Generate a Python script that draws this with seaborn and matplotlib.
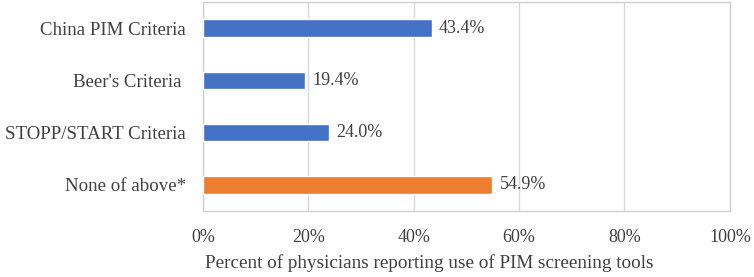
import pandas as pd
import matplotlib.pyplot as plt
import seaborn as sns

categories = ["China PIM Criteria", "Beer's Criteria ", "STOPP/START Criteria", "None of above*"]
values = [43.4, 19.4, 24.0, 54.9]
bar_colors = ["#4472C4", "#4472C4", "#4472C4", "#ED7D31"]
ticks = [0, 20, 40, 60, 80, 100]

df = pd.DataFrame({"Category": categories, "Value": values})

sns.set_style("white")
plt.rcParams["font.family"] = ["Liberation Serif", "DejaVu Serif"]

fig, ax = plt.subplots(figsize=(7.54, 2.77), dpi=100)
fig.subplots_adjust(left=0.269, right=0.968, top=0.993, bottom=0.238)

sns.barplot(data=df, x="Value", y="Category", hue="Category", palette=bar_colors,
            saturation=1, legend=False, width=0.33, ax=ax, zorder=3)

for i, v in enumerate(values):
    ax.text(v + 1.4, i, f"{v:.1f}%", va="center", ha="left", fontsize=13, color="#404040")

ax.set_xlim(0, 100)
ax.set_xticks(ticks)
ax.set_xticklabels([f"{t}%" for t in ticks])
ax.grid(axis="x", color="#D9D9D9", linewidth=1, zorder=0)
ax.set_axisbelow(True)
for s in ax.spines.values():
    s.set_color("#D0D0D0")
    s.set_linewidth(1)
ax.tick_params(axis="x", length=0, labelsize=13, colors="#404040", pad=13)
ax.tick_params(axis="y", length=0, labelsize=13.6, colors="#404040", pad=12)
ax.set_ylabel("")
ax.set_xlabel("Percent of physicians reporting use of PIM screening tools", fontsize=13.8,
              color="#404040")
ax.xaxis.set_label_coords(0.43, -0.205)

plt.savefig("out.png", dpi=100)
